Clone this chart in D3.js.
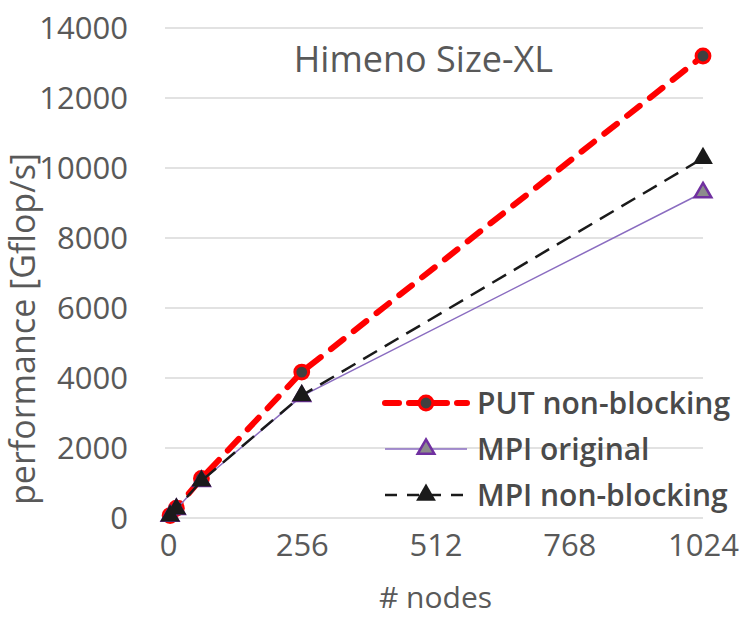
<!DOCTYPE html>
<html>
<head>
<meta charset="utf-8">
<script src="https://cdn.jsdelivr.net/npm/d3@7"></script>
<style>
  body { margin: 0; background: #fff; }
  text { font-family: 'Open Sans', Lato, sans-serif; fill: #595959; }
</style>
</head>
<body>
<div id="vis"></div>
<script>
const nodes = [4, 16, 64, 256, 1024];
const putNonBlocking = [70, 280, 1130, 4170, 13200];
const mpiOriginal = [60, 250, 1050, 3480, 9300];
const mpiNonBlocking = [65, 260, 1060, 3500, 10280];

const xTicks = [0, 256, 512, 768, 1024];
const yTicks = [0, 2000, 4000, 6000, 8000, 10000, 12000, 14000];

const seriesNames = ['PUT non-blocking', 'MPI original', 'MPI non-blocking'];

const visWidth = 742;
const visHeight = 617;

const margin = {
  top: 28,
  bottom: 99,
  left: 168,
  right: 39
};

const width = visWidth - margin.left - margin.right;
const height = visHeight - margin.top - margin.bottom;

const series = [
  {name: seriesNames[0], values: putNonBlocking, stroke: '#ff0000', width: 6, dash: '16,13', cap: 'round',
   marker: 'circle', fill: '#404040', mstroke: '#ff0000', mwidth: 3, size: 150},
  {name: seriesNames[1], values: mpiOriginal, stroke: '#8a6cc0', width: 1.5, dash: null, cap: 'butt',
   marker: 'triangle', fill: '#8c8c8c', mstroke: '#7030a0', mwidth: 2.5, size: 120},
  {name: seriesNames[2], values: mpiNonBlocking, stroke: '#1a1a1a', width: 2.5, dash: '16,9', cap: 'butt',
   marker: 'triangle', fill: '#1a1a1a', mstroke: 'none', mwidth: 0, size: 170},
];

const svg = d3.select('#vis').append('svg')
    .attr('width', visWidth)
    .attr('height', visHeight)
  .append('g')
    .attr('transform', `translate(${margin.left}, ${margin.top})`);

const x = d3.scaleLinear()
    .domain([0, 1024])
    .range([0, width]);

const y = d3.scaleLinear()
    .domain([0, 14000])
    .range([height, 0]);

// gridlines
svg.selectAll('.grid')
  .data(yTicks)
  .join('line')
    .attr('class', 'grid')
    .attr('x1', -3)
    .attr('x2', width)
    .attr('y1', d => y(d))
    .attr('y2', d => y(d))
    .attr('stroke', '#d9d9d9')
    .attr('stroke-width', 1.5);

// y axis labels
svg.append('g')
    .attr('transform', 'translate(-40, 0)')
    .call(d3.axisLeft(y).tickValues(yTicks).tickFormat(d3.format('d')).tickSize(0).tickPadding(0))
    .call(g => g.select('.domain').remove())
    .call(g => g.selectAll('text')
        .attr('font-size', 31)
        .attr('font-family', null)
        .attr('fill', '#595959')
        .attr('dy', '0.34em'));

// x axis labels
svg.append('g')
    .attr('transform', `translate(0, ${height + 16})`)
    .call(d3.axisBottom(x).tickValues(xTicks).tickFormat(d3.format('d')).tickSize(0).tickPadding(0))
    .call(g => g.select('.domain').remove())
    .call(g => g.selectAll('text')
        .attr('font-size', 31)
        .attr('font-family', null)
        .attr('fill', '#595959')
        .attr('dy', '0.72em'));

svg.append('text')
    .attr('x', x(512))
    .attr('y', height + 90)
    .attr('text-anchor', 'middle')
    .attr('font-size', 30)
    .text('# nodes');

svg.append('text')
    .attr('transform', `translate(${-133}, ${height / 2 + 56}) rotate(-90)`)
    .attr('text-anchor', 'middle')
    .attr('font-size', 34)
    .text('performance [Gflop/s]');

svg.append('text')
    .attr('x', x(512) - 12)
    .attr('y', 44)
    .attr('text-anchor', 'middle')
    .attr('font-size', 36)
    .text('Himeno Size-XL');

const line = d3.line()
    .x((d, i) => x(nodes[i]))
    .y(d => y(d));

function drawMarker(sel, s) {
  const sym = s.marker === 'circle' ? d3.symbolCircle : d3.symbolTriangle;
  sel.attr('d', d3.symbol().type(sym).size(s.size))
      .attr('fill', s.fill)
      .attr('stroke', s.mstroke)
      .attr('stroke-width', s.mwidth);
}

series.forEach((s, k) => {
  svg.append('path')
      .datum(s.values)
      .attr('d', line)
      .attr('fill', 'none')
      .attr('stroke', s.stroke)
      .attr('stroke-width', s.width)
      .attr('stroke-dasharray', s.dash)
      .attr('stroke-linecap', s.cap);

  svg.selectAll(`.m${k}`)
    .data(s.values)
    .join('path')
      .attr('class', `m${k}`)
      .attr('transform', (d, i) => `translate(${x(nodes[i])}, ${y(d)})`)
      .call(sel => drawMarker(sel, s));
});

// legend
const legend = svg.append('g')
    .attr('transform', 'translate(217, 375)');

const entry = legend.selectAll('g')
  .data(series)
  .join('g')
    .attr('transform', (d, i) => `translate(0, ${i * 46})`);

entry.append('line')
    .attr('x1', 0)
    .attr('x2', 82)
    .attr('stroke', d => d.stroke)
    .attr('stroke-width', d => d.width)
    .attr('stroke-dasharray', d => d.name === seriesNames[0] ? '14,10' : d.dash ? '12,10' : null)
    .attr('stroke-linecap', d => d.cap);

entry.each(function(d) {
  d3.select(this).append('path')
      .attr('transform', 'translate(41, 0)')
      .call(sel => drawMarker(sel, d));
});

entry.append('text')
    .attr('x', 92)
    .attr('dy', '0.35em')
    .attr('font-size', 30)
    .attr('font-weight', 600)
    .style('fill', '#4a4a4a')
    .text(d => d.name);
</script>
</body>
</html>
